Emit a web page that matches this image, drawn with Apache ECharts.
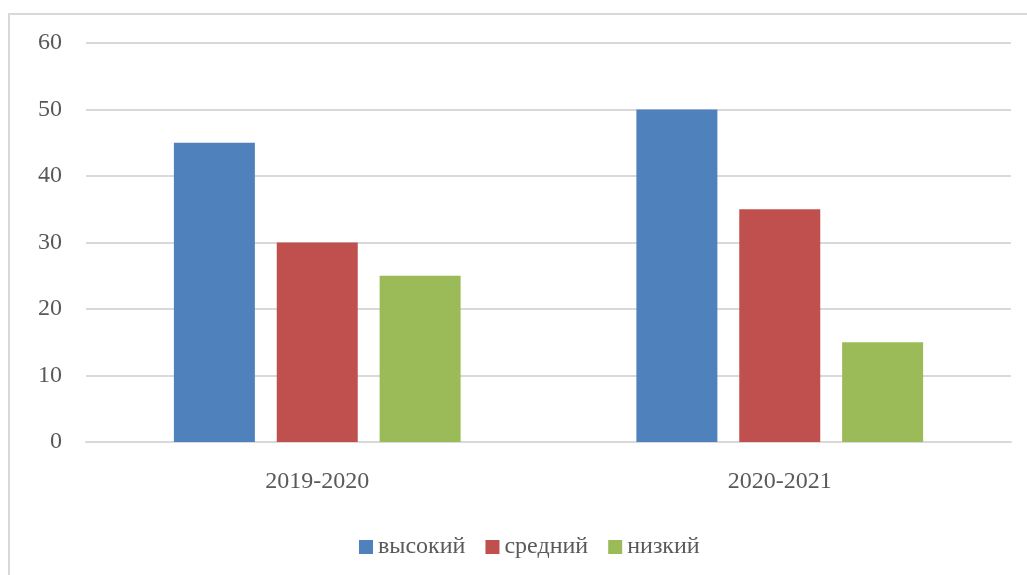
<!DOCTYPE html>
<html>
<head>
<meta charset="utf-8">
<script src="https://cdn.jsdelivr.net/npm/echarts@6/dist/echarts.min.js"></script>
<style>
  html, body { margin: 0; padding: 0; background: #fff; }
  #main { width: 1027px; height: 575px; }
</style>
</head>
<body>
<div id="main"></div>
<script>
// учебные годы и уровни
const categories = ['2019-2020', '2020-2021'];
const highVals = [45, 50];
const midVals = [30, 35];
const lowVals = [25, 15];
const seriesNames = ['высокий', 'средний', 'низкий'];
const colors = ['#4f81bd', '#c0504d', '#9bbb59'];

const chart = echarts.init(document.getElementById('main'));
const font = "'Liberation Serif', 'Times New Roman', serif";

const barStyle = { barWidth: 81, barGap: '27%' };

const option = {
    animation: false,
    textStyle: { fontFamily: font },
    graphic: [{
        type: 'rect',
        shape: { x: 9, y: 14, width: 1100, height: 700 },
        style: { fill: 'none', stroke: '#d9d9d9', lineWidth: 2 },
        silent: true
    }],
    grid: { left: 86, right: 16, top: 43, bottom: 133, containLabel: false },
    legend: {
        bottom: 11,
        left: 354,
        itemWidth: 14,
        itemHeight: 14,
        itemGap: 20,
        itemTextGap: 5,
        icon: 'rect',
        textStyle: { fontFamily: font, fontSize: 24, color: '#595959' },
        data: seriesNames
    },
    xAxis: {
        type: 'category',
        data: categories,
        axisLine: { lineStyle: { color: '#d9d9d9', width: 2 } },
        axisTick: { show: false },
        axisLabel: { fontFamily: font, fontSize: 24, color: '#595959', margin: 28 }
    },
    yAxis: {
        type: 'value',
        min: 0,
        max: 60,
        interval: 10,
        axisLine: { show: false },
        axisTick: { show: false },
        axisLabel: { fontFamily: font, fontSize: 24, color: '#595959', margin: 24 },
        splitLine: { lineStyle: { color: '#d9d9d9', width: 2 } }
    },
    series: [
        Object.assign({ name: seriesNames[0], type: 'bar', data: highVals, itemStyle: { color: colors[0] } }, barStyle),
        Object.assign({ name: seriesNames[1], type: 'bar', data: midVals, itemStyle: { color: colors[1] } }, barStyle),
        Object.assign({ name: seriesNames[2], type: 'bar', data: lowVals, itemStyle: { color: colors[2] } }, barStyle)
    ]
};

chart.setOption(option);
</script>
</body>
</html>
